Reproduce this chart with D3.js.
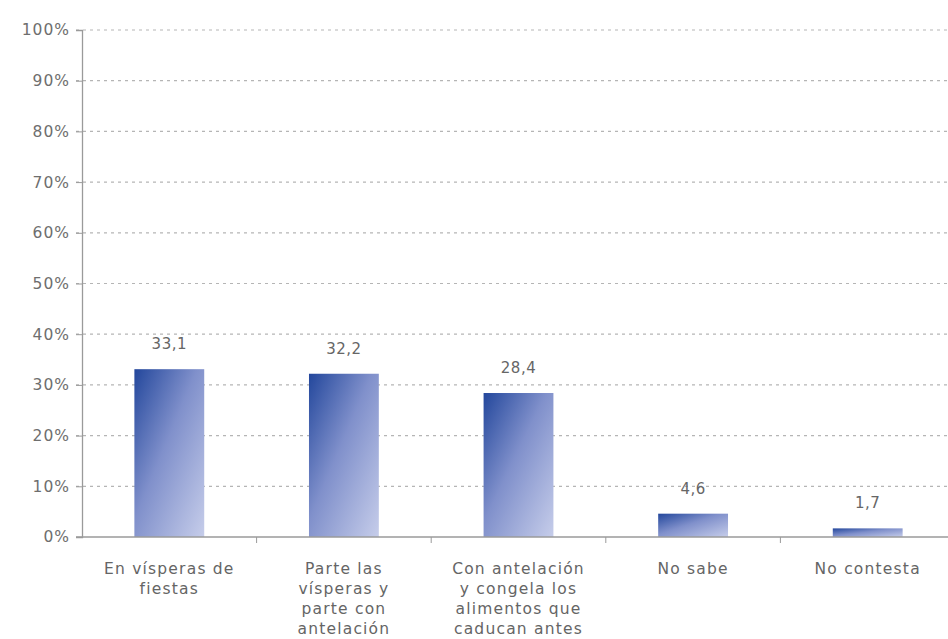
<!DOCTYPE html>
<html>
<head>
<meta charset="utf-8">
<script src="https://cdn.jsdelivr.net/npm/d3@7"></script>
<style>
  html, body { margin: 0; padding: 0; background: #fff; }
  svg { display: block; }
  text { font-family: "DejaVu Sans", sans-serif; }
</style>
</head>
<body>
<script>
// Respuestas y porcentajes
const categories = [
  ["En vísperas de", "fiestas"],
  ["Parte las", "vísperas y", "parte con", "antelación"],
  ["Con antelación", "y congela los", "alimentos que", "caducan antes"],
  ["No sabe"],
  ["No contesta"]
];
const values = [33.1, 32.2, 28.4, 4.6, 1.7];
const valueLabels = ["33,1", "32,2", "28,4", "4,6", "1,7"];
const yTicks = [0, 10, 20, 30, 40, 50, 60, 70, 80, 90, 100];

const W = 948, H = 639;
const svg = d3.select("body").append("svg").attr("width", W).attr("height", H);

const defs = svg.append("defs");
const grad = defs.append("linearGradient")
  .attr("id", "barGrad")
  .attr("x1", "0").attr("y1", "0").attr("x2", "1").attr("y2", "1");
grad.append("stop").attr("offset", "0%").attr("stop-color", "#23479c");
grad.append("stop").attr("offset", "45%").attr("stop-color", "#8090cb");
grad.append("stop").attr("offset", "100%").attr("stop-color", "#c6cdea");

const x = d3.scaleBand()
  .domain(d3.range(categories.length))
  .range([82, 955])
  .paddingInner(0.6)
  .paddingOuter(0.3);

const y = d3.scaleLinear().domain([0, 100]).range([537, 30]);

// Gridlines
svg.append("g")
  .selectAll("line")
  .data(yTicks.filter(d => d > 0))
  .join("line")
  .attr("x1", 76).attr("x2", W)
  .attr("y1", d => y(d)).attr("y2", d => y(d))
  .attr("stroke", "#b5b5b5")
  .attr("stroke-width", 1.2)
  .attr("stroke-dasharray", "3,4");

// Y axis
const yAxis = d3.axisLeft(y)
  .tickValues(yTicks)
  .tickFormat(d => d + "%")
  .tickSize(6)
  .tickPadding(6);
const gy = svg.append("g").attr("transform", "translate(82,0)").call(yAxis);
gy.select(".domain").attr("stroke", "#9a9a9a").attr("stroke-width", 1.3);
gy.selectAll(".tick line").attr("stroke", "#9a9a9a");
gy.selectAll(".tick text")
  .attr("fill", "#6e6e6e")
  .style("font-size", "15.5px")
  .style("letter-spacing", "1px");

// Bars
svg.append("g")
  .selectAll("rect")
  .data(values)
  .join("rect")
  .attr("x", (d, i) => x(i))
  .attr("width", x.bandwidth())
  .attr("y", d => y(d))
  .attr("height", d => y(0) - y(d))
  .attr("fill", "url(#barGrad)");

// X axis baseline with ticks between categories
const step = x.step();
const boundaries = d3.range(1, categories.length).map(i => x(i) - x.paddingInner() * step / 2);
svg.append("line")
  .attr("x1", 76).attr("x2", W)
  .attr("y1", y(0)).attr("y2", y(0))
  .attr("stroke", "#9a9a9a").attr("stroke-width", 1.3);
svg.append("g")
  .selectAll("line")
  .data(boundaries)
  .join("line")
  .attr("x1", d => d).attr("x2", d => d)
  .attr("y1", y(0)).attr("y2", y(0) + 6)
  .attr("stroke", "#9a9a9a");

// Value labels
svg.append("g")
  .selectAll("text")
  .data(values)
  .join("text")
  .attr("x", (d, i) => x(i) + x.bandwidth() / 2)
  .attr("y", d => y(d) - 20)
  .attr("text-anchor", "middle")
  .attr("fill", "#666")
  .style("font-size", "15px")
  .style("letter-spacing", "0.5px")
  .text((d, i) => valueLabels[i]);

// Category labels
const catG = svg.append("g")
  .selectAll("text")
  .data(categories)
  .join("text")
  .attr("text-anchor", "middle")
  .attr("fill", "#656565")
  .style("font-size", "15.5px")
  .style("letter-spacing", "1.2px");
catG.each(function(lines, i) {
  const t = d3.select(this);
  lines.forEach((ln, j) => {
    t.append("tspan")
      .attr("x", x(i) + x.bandwidth() / 2)
      .attr("y", 574 + j * 20)
      .text(ln);
  });
});
</script>
</body>
</html>
